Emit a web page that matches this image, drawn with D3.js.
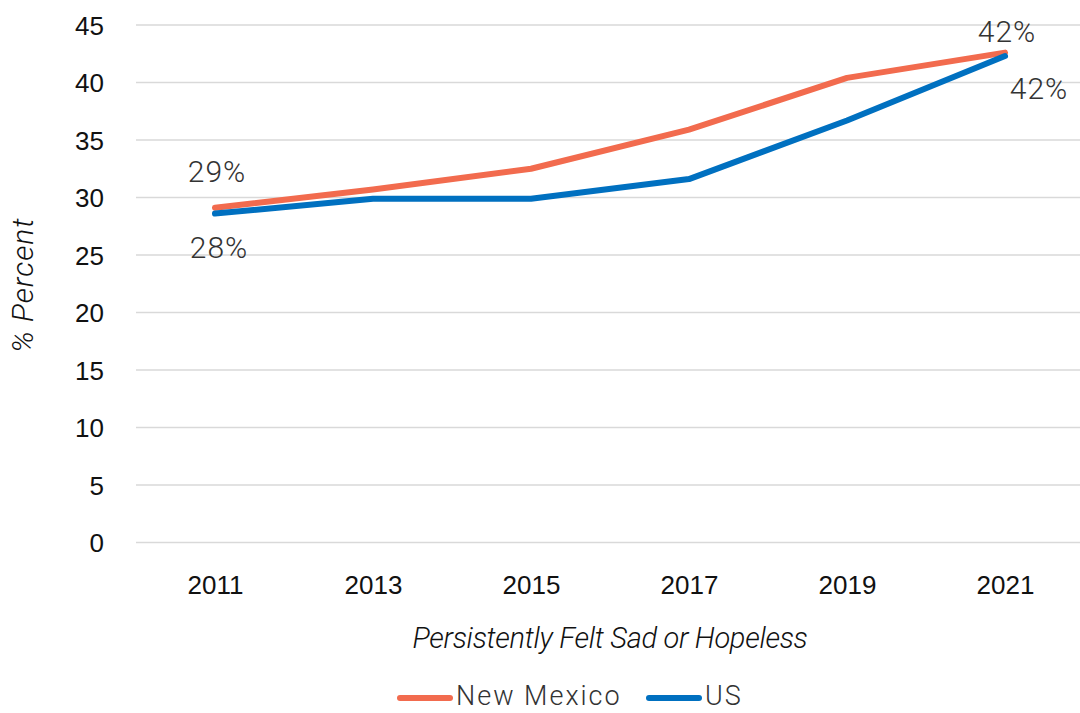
<!DOCTYPE html>
<html>
<head>
<meta charset="utf-8">
<script src="https://cdn.jsdelivr.net/npm/d3@7"></script>
<style>
  html, body { margin: 0; padding: 0; background: #fff; }
  svg { display: block; font-family: Roboto, "Noto Sans", sans-serif; }
</style>
</head>
<body>
<div id="chart"></div>
<script>
// Chart data
const years = ["2011", "2013", "2015", "2017", "2019", "2021"];
const newMexico = [29.1, 30.7, 32.5, 35.9, 40.4, 42.6];
const us = [28.6, 29.9, 29.9, 31.6, 36.7, 42.3];
const yTicks = [0, 5, 10, 15, 20, 25, 30, 35, 40, 45];
const seriesNames = ["New Mexico", "US"];
// labels shown only on first and last points
const nmLabels = ["29%", null, null, null, null, "42%"];
const usLabels = ["28%", null, null, null, null, "42%"];

const width = 1080, height = 713;
const colors = {"New Mexico": "#F26B4E", "US": "#0070C0"};

const svg = d3.select("#chart")
    .append("svg")
    .attr("width", width)
    .attr("height", height);

// Scales
const x = d3.scalePoint()
    .domain(years)
    .range([136, 1084])
    .padding(0.5);

const y = d3.scaleLinear()
    .domain([0, 45])
    .range([542.5, 25]);

// Gridlines
svg.append("g")
    .selectAll("line")
    .data(yTicks)
    .enter()
    .append("line")
    .attr("x1", 136)
    .attr("x2", 1084)
    .attr("y1", d => y(d))
    .attr("y2", d => y(d))
    .attr("stroke", "#d9d9d9")
    .attr("stroke-width", 1.5);

// Y axis
const yAxis = svg.append("g")
    .attr("transform", "translate(104,0)")
    .call(d3.axisLeft(y).tickValues(yTicks).tickSize(0).tickPadding(0));
yAxis.select(".domain").remove();
yAxis.selectAll("text")
    .attr("dy", "0.35em")
    .style("font-size", "26px")
    .style("fill", "#111");

// X axis
const xAxis = svg.append("g")
    .attr("transform", "translate(0,585)")
    .call(d3.axisBottom(x).tickSize(0).tickPadding(0));
xAxis.select(".domain").remove();
xAxis.selectAll("text")
    .attr("dy", "0.35em")
    .style("font-size", "26px")
    .style("fill", "#111");

// Axis titles
svg.append("text")
    .attr("transform", "translate(33,285) rotate(-90)")
    .attr("text-anchor", "middle")
    .style("font-size", "30px")
    .style("font-style", "italic")
    .style("font-weight", 300)
    .style("letter-spacing", "1px")
    .style("fill", "#111")
    .text("% Percent");

svg.append("text")
    .attr("x", 610)
    .attr("y", 648)
    .attr("text-anchor", "middle")
    .style("font-size", "29px")
    .style("font-style", "italic")
    .style("font-weight", 300)
    .style("letter-spacing", "-0.3px")
    .style("fill", "#111")
    .text("Persistently Felt Sad or Hopeless");

// Lines
const line = d3.line()
    .x((d, i) => x(years[i]))
    .y(d => y(d));

svg.append("path")
    .datum(newMexico)
    .attr("fill", "none")
    .attr("stroke", colors["New Mexico"])
    .attr("stroke-width", 6)
    .attr("stroke-linejoin", "round")
    .attr("stroke-linecap", "round")
    .attr("d", line);

svg.append("path")
    .datum(us)
    .attr("fill", "none")
    .attr("stroke", colors["US"])
    .attr("stroke-width", 6)
    .attr("stroke-linejoin", "round")
    .attr("stroke-linecap", "round")
    .attr("d", line);

// Data labels
const labelStyle = sel => sel
    .attr("text-anchor", "middle")
    .attr("dy", "0.35em")
    .style("font-size", "30px")
    .style("font-weight", 300)
    .style("letter-spacing", "1px")
    .style("fill", "#333");

// NM labels sit above the line, US labels below
svg.append("g").selectAll("text")
    .data(newMexico.map((v, i) => ({v, i, t: nmLabels[i]})).filter(d => d.t))
    .enter()
    .append("text")
    .call(labelStyle)
    .attr("x", d => x(years[d.i]) + 2)
    .attr("y", d => y(d.v) - (d.i === years.length - 1 ? 21 : 36))
    .text(d => d.t);

svg.append("g").selectAll("text")
    .data(us.map((v, i) => ({v, i, t: usLabels[i]})).filter(d => d.t))
    .enter()
    .append("text")
    .call(labelStyle)
    .attr("x", d => x(years[d.i]) + (d.i === years.length - 1 ? 34 : 4))
    .attr("y", d => y(d.v) + (d.i === years.length - 1 ? 32 : 34))
    .text(d => d.t);

// Legend
const legendItems = [
    {name: seriesNames[0], x: 400, tx: 456},
    {name: seriesNames[1], x: 649, tx: 705}
];
const legend = svg.append("g");
legend.selectAll("line")
    .data(legendItems)
    .enter()
    .append("line")
    .attr("x1", d => d.x)
    .attr("x2", d => d.x + 50)
    .attr("y1", 698)
    .attr("y2", 698)
    .attr("stroke", d => colors[d.name])
    .attr("stroke-width", 6)
    .attr("stroke-linecap", "round");
legend.selectAll("text")
    .data(legendItems)
    .enter()
    .append("text")
    .attr("x", d => d.tx)
    .attr("y", 696)
    .attr("dy", "0.35em")
    .style("font-size", "27px")
    .style("font-weight", 300)
    .style("letter-spacing", "2px")
    .style("fill", "#333")
    .text(d => d.name);
</script>
</body>
</html>
